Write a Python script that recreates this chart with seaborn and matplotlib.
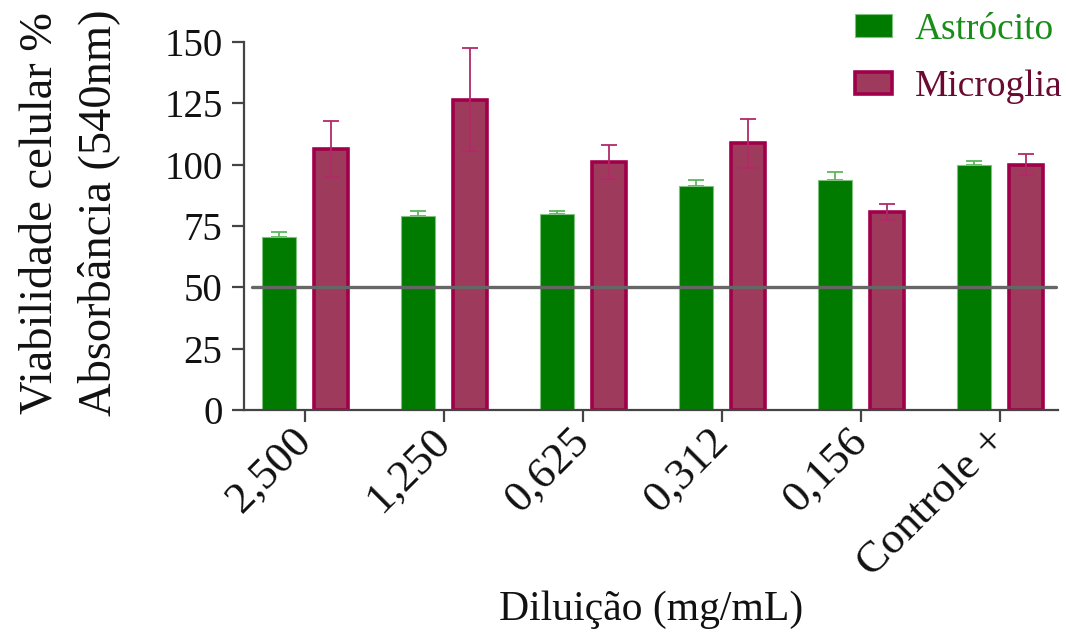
import numpy as np
import pandas as pd
import matplotlib
matplotlib.use("Agg")
import matplotlib.pyplot as plt
import seaborn as sns

categories = ["2,500", "1,250", "0,625", "0,312", "0,156", "Controle +"]
astro_vals = [70.4, 79.2, 79.8, 91.2, 93.6, 100.0]
astro_err = [2.2, 2.0, 1.5, 2.6, 3.3, 1.3]
micro_vals = [106.3, 126.4, 101.0, 108.6, 80.7, 99.9]
micro_err = [11.5, 21.0, 6.9, 10.0, 3.2, 4.3]
series = ["Astrócito", "Microglia"]
yticks = [0, 25, 50, 75, 100, 125, 150]
threshold = 50

sns.set_theme(style="white")
plt.rcParams["font.family"] = ["Liberation Serif", "DejaVu Serif"]

df = pd.DataFrame({
    "cat": categories * 2,
    "serie": [series[0]] * len(categories) + [series[1]] * len(categories),
    "val": astro_vals + micro_vals,
})

fig = plt.figure(figsize=(10.66, 6.33), dpi=100)
ax = fig.add_axes([0.229, 0.352, 0.7635, 0.582])

green = "#007b00"
green_edge = "#7fc27f"
mfill = "#9e3a5c"
medge = "#a0004a"

sns.barplot(data=df, x="cat", y="val", hue="serie", hue_order=series,
            palette=[green, mfill], width=0.75, gap=0.35, errorbar=None,
            legend=False, ax=ax, saturation=1)

cont_a, cont_m = ax.containers[0], ax.containers[1]
for p in cont_a:
    p.set_edgecolor(green_edge); p.set_linewidth(0.8); p.set_zorder(2)
for p in cont_m:
    p.set_edgecolor(medge); p.set_linewidth(2.6); p.set_zorder(2)

xa = [p.get_x() + p.get_width() / 2 for p in cont_a]
ha_ = [p.get_height() for p in cont_a]
xm = [p.get_x() + p.get_width() / 2 for p in cont_m]
hm = [p.get_height() for p in cont_m]
ax.errorbar(xa, ha_, yerr=[np.zeros(len(astro_err)), astro_err], fmt="none",
            ecolor="#5cb85c", elinewidth=1.3, capsize=6, capthick=1.3, zorder=1)
ax.errorbar(xm, hm, yerr=micro_err, fmt="none",
            ecolor="#b02a68", elinewidth=1.3, capsize=6, capthick=1.3, zorder=3)

ax.axhline(threshold, xmin=0.01, xmax=0.997, color="#666666", lw=2.4, zorder=4)

ax.set_ylim(0, 150)
ax.set_xlim(-0.44, 5.42)
ax.set_yticks(yticks)
ax.set_yticklabels([str(t) for t in yticks], fontsize=28)
ax.set_xticks(range(len(categories)))
ax.set_xticklabels(categories, fontsize=32, rotation=45, ha="right",
                   va="center", rotation_mode="anchor")
for s in ["top", "right"]:
    ax.spines[s].set_visible(False)
for s in ["left", "bottom"]:
    ax.spines[s].set_color("#444444")
    ax.spines[s].set_linewidth(1.6)
ax.tick_params(axis="both", direction="out", length=8.5, width=1.6,
               color="#444444", left=True, bottom=True, pad=7, labelcolor="#111111")
ax.tick_params(axis="x", pad=9)

ax.set_xlabel("Diluição (mg/mL)", fontsize=30, labelpad=4, color="#111111")
ax.set_ylabel("Viabilidade celular %\nAbsorbância (540nm)", fontsize=33.5,
              linespacing=1.48, color="#111111")
ax.yaxis.set_label_coords(-0.152, 0.535)

leg = ax.legend(handles=[cont_a[0], cont_m[0]], labels=series, loc="upper left",
                bbox_to_anchor=(0.802, 0.981), bbox_transform=fig.transFigure,
                frameon=False, fontsize=27,
                handlelength=1.0, handleheight=0.55, handletextpad=0.6,
                labelspacing=0.62, borderpad=0.0, borderaxespad=0.0)
leg.get_texts()[0].set_color("#1a8c1a")
leg.get_texts()[1].set_color("#6a0a30")

fig.savefig("out.png", dpi=100)
